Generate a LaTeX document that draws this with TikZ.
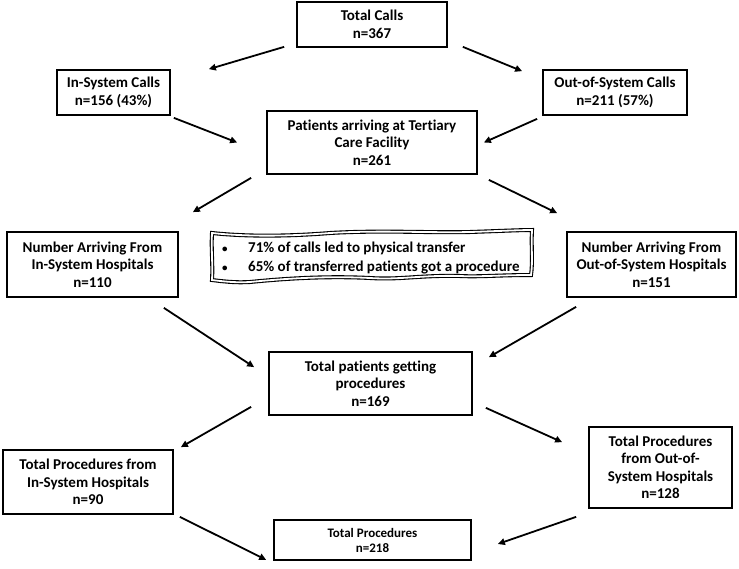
\documentclass[tikz,border=0pt]{standalone}
\usepackage{fontspec}
\setmainfont{Carlito}[Ligatures=NoCommon]
\usetikzlibrary{arrows.meta}
\tikzset{
  box/.style={draw, line width=1.7pt, rectangle, align=center, inner sep=2pt,
    font=\fontsize{15}{17.5}\selectfont\bfseries},
  arr/.style={line width=1.8pt, -{Triangle[length=7pt,width=6.5pt]}},
  wavy/.style={line width=1.1pt, double=white, double distance=1.8pt}
}
\newcommand{\mybul}{\makebox[26pt][l]{\fontsize{11}{11}\selectfont•}}
\begin{document}
\begin{tikzpicture}[x=1pt,y=-1pt]
\useasboundingbox (0,0) rectangle (739,568);
\node[box, minimum width=150pt, minimum height=45pt] (tc) at (372,24.5) {Total Calls\\n=367};
\node[box, minimum width=113pt, minimum height=45pt] (in) at (113.5,92.5) {In-System Calls\\n=156 (43\%)};
\node[box, minimum width=144pt, minimum height=45pt] (out) at (615,92.5) {Out-of-System Calls\\n=211 (57\%)};
\node[box, minimum width=210pt, minimum height=63pt] (pa) at (372,142.5) {Patients arriving at Tertiary\\Care Facility\\n=261};
\node[box, minimum width=171pt, minimum height=65pt] (ni) at (92.5,264.5) {Number Arriving From\\In-System Hospitals\\n=110};
\node[box, minimum width=169pt, minimum height=65pt] (no) at (651.5,264.5) {Number Arriving From\\Out-of-System Hospitals\\n=151};
\node[box, minimum width=203pt, minimum height=63pt] (tp) at (370.5,383.5) {Total patients getting\\procedures\\n=169};
\node[box, minimum width=170pt, minimum height=64pt] (pi) at (88,482) {Total Procedures from\\In-System Hospitals\\n=90};
\node[box, minimum width=143pt, minimum height=81pt] (po) at (660.5,467.5) {Total Procedures\\from Out-of-\\System Hospitals\\n=128};
\node[box, minimum width=197pt, minimum height=40pt, font=\fontsize{13}{15}\selectfont\bfseries] (tt) at (372.5,540) {Total Procedures\\n=218};

% callout
\draw[wavy] (212,233) .. controls (240,236) and (280,237) .. (330,233)
  .. controls (380,230) and (430,233) .. (470,232)
  .. controls (500,231) and (520,230) .. (532,230)
  .. controls (531,245) and (533,262) .. (531,275)
  .. controls (500,275) and (480,277) .. (460,276)
  .. controls (420,275) and (400,280) .. (370,278)
  .. controls (330,276) and (290,278) .. (250,282)
  .. controls (235,283) and (220,281) .. (212,280)
  .. controls (213,265) and (211,248) .. (212,233) -- cycle;
\node[anchor=west, align=left, inner sep=0pt, font=\fontsize{15}{19}\selectfont\bfseries] (cl) at (222,258.5)
  {\mybul 71\% of calls led to physical transfer\\
   \mybul 65\% of transferred patients got a procedure};

% connectors
\draw[arr] ([xshift=-12pt,yshift=1pt]tc.south west) -- ([xshift=38pt]in.north east);
\draw[arr] ([xshift=15pt,yshift=1pt]tc.south east) -- ([xshift=-20pt,yshift=-2pt]out.north west);
\draw[arr] ([xshift=3pt,yshift=-2pt]in.south east) -- ([xshift=-29pt]pa.west);
\draw[arr] ([xshift=-5pt,yshift=-3pt]out.south west) -- ([xshift=6pt]pa.east);
\draw[arr] ([xshift=-15pt,yshift=-3pt]pa.south west) -- ([xshift=14pt,yshift=19pt]ni.north east);
\draw[arr] ([xshift=11pt,yshift=-5pt]pa.south east) -- ([xshift=-9pt,yshift=18pt]no.north west);
\draw[arr] ([xshift=-15pt,yshift=-10pt]ni.south east) -- ([xshift=-14pt,yshift=-16pt]tp.north west);
\draw[arr] ([xshift=10pt,yshift=-9pt]no.south west) -- ([xshift=16pt,yshift=-6pt]tp.north east);
\draw[arr] ([xshift=-17pt,yshift=9pt]tp.south west) -- ([xshift=7pt,yshift=2pt]pi.north east);
\draw[arr] ([xshift=13pt,yshift=8pt]tp.south east) -- ([xshift=-26pt,yshift=-16pt]po.north west);
\draw[arr] ([xshift=6pt,yshift=-2pt]pi.south east) -- ([xshift=-7pt,yshift=1pt]tt.south west);
\draw[arr] ([xshift=-12pt,yshift=-8pt]po.south west) -- ([xshift=26pt,yshift=-4pt]tt.east);
\end{tikzpicture}
\end{document}
